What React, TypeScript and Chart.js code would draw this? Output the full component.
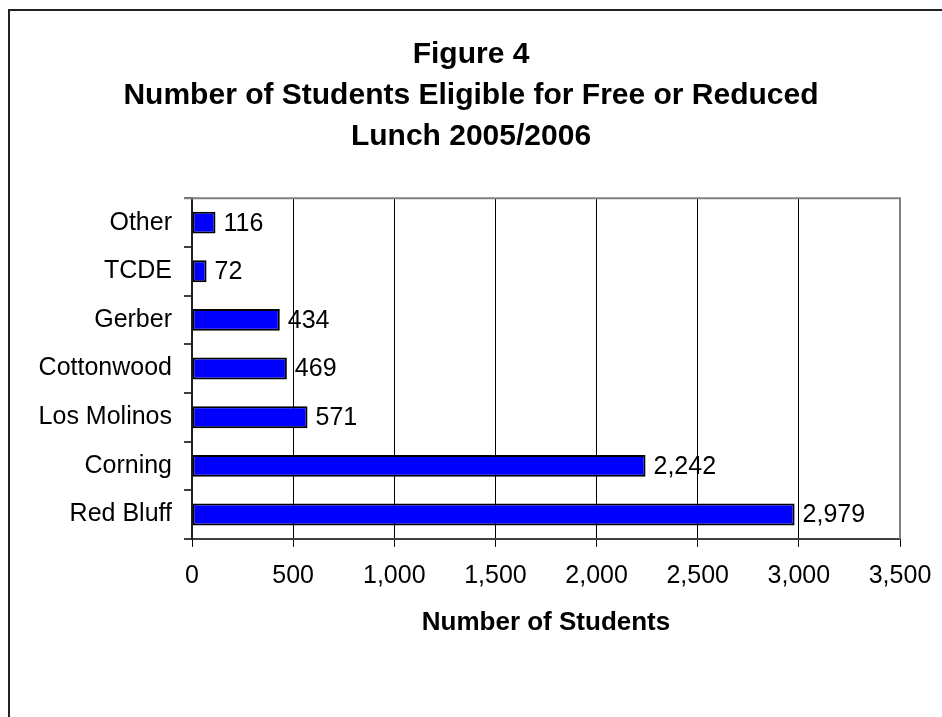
import React, { useEffect, useRef } from "react";
import { Chart, registerables } from "chart.js";

Chart.register(...registerables);

const categories = ["Other", "TCDE", "Gerber", "Cottonwood", "Los Molinos", "Corning", "Red Bluff"];
const students = [116, 72, 434, 469, 571, 2242, 2979];
const titleLines = ["Figure 4", "Number of Students Eligible for Free or Reduced", "Lunch 2005/2006"];
const xAxisTitle = "Number of Students";
const xMin = 0;
const xMax = 3500;
const xStep = 500;

const FONT = "'Liberation Sans', Arial, sans-serif";

const fmt = (v: number) => Number(v).toLocaleString("en-US");

const valueLabels = {
  id: "valueLabels",
  afterDatasetsDraw(chart: any) {
    const ctx = chart.ctx;
    const meta = chart.getDatasetMeta(0);
    ctx.save();
    ctx.font = `25px ${FONT}`;
    ctx.fillStyle = "#000";
    ctx.textAlign = "left";
    ctx.textBaseline = "middle";
    meta.data.forEach((el: any, i: number) => {
      ctx.fillText(fmt(students[i]), el.x + 8, el.y + 1);
    });
    ctx.restore();
  },
};

const plotFrame = {
  id: "plotFrame",
  afterDraw(chart: any) {
    const { ctx, chartArea } = chart;
    ctx.save();
    ctx.strokeStyle = "#808080";
    ctx.lineWidth = 2;
    ctx.beginPath();
    ctx.moveTo(chartArea.left - 8, chartArea.top);
    ctx.lineTo(chartArea.right, chartArea.top);
    ctx.lineTo(chartArea.right, chartArea.bottom);
    ctx.stroke();
    ctx.restore();
  },
};

export default function App() {
  const ref = useRef<HTMLCanvasElement | null>(null);

  useEffect(() => {
    if (!ref.current) return;
    const chart = new Chart(ref.current, {
      type: "bar",
      data: {
        labels: categories,
        datasets: [
          {
            data: students,
            backgroundColor: "#0000FF",
            borderColor: "#000000",
            borderWidth: 2,
            borderSkipped: false,
            categoryPercentage: 1,
            barPercentage: 0.45,
          },
        ],
      },
      options: {
        indexAxis: "y",
        responsive: false,
        animation: false,
        devicePixelRatio: 1,
        layout: { padding: { left: 0, right: 0, top: 0, bottom: 75 } },
        plugins: {
          legend: { display: false },
          tooltip: { enabled: false },
          title: {
            display: true,
            text: titleLines,
            color: "#000",
            font: { family: FONT, size: 30, weight: "bold", lineHeight: 1.37 },
            padding: { top: 34, bottom: 41 },
          },
        },
        scales: {
          x: {
            type: "linear",
            min: xMin,
            max: xMax,
            afterFit: (scale: any) => {
              scale.paddingLeft = 0;
              scale.paddingRight = 0;
            },
            ticks: {
              stepSize: xStep,
              color: "#000",
              font: { family: FONT, size: 25 },
              padding: 14,
              callback: (v: any) => fmt(v),
            },
            grid: {
              color: (c: any) => (c.tick && c.tick.value === xMax ? "#808080" : "#000000"),
              tickColor: "#000000",
              tickLength: 8,
              lineWidth: 1,
            },
            border: { display: true, color: "#404040", width: 2 },
            title: {
              display: true,
              text: xAxisTitle,
              color: "#000",
              font: { family: FONT, size: 26, weight: "bold" },
              padding: { top: 2, bottom: 4 },
            },
          },
          y: {
            type: "category",
            afterFit: (scale: any) => {
              scale.width = 192;
            },
            ticks: {
              color: "#000",
              font: { family: FONT, size: 25 },
              padding: 12,
            },
            grid: {
              offset: true,
              drawOnChartArea: false,
              drawTicks: true,
              tickLength: 8,
              color: "#404040",
              lineWidth: 2,
            },
            border: { display: true, color: "#202020", width: 2 },
          },
          yRight: {
            type: "linear",
            position: "right",
            display: true,
            afterFit: (scale: any) => {
              scale.width = 42;
            },
            ticks: { display: false },
            grid: { display: false, drawOnChartArea: false, drawTicks: false },
            border: { display: false },
          },
        },
      },
      plugins: [valueLabels, plotFrame],
    });
    return () => chart.destroy();
  }, []);

  return (
    <div style={{ position: "fixed", left: 0, top: 0, width: 942, height: 717, background: "#fff", overflow: "hidden" }}>
      <div
        style={{
          position: "absolute",
          left: 8,
          top: 9,
          width: 2000,
          height: 2000,
          borderLeft: "2px solid #222",
          borderTop: "2px solid #222",
        }}
      />
      <canvas ref={ref} width={942} height={717} style={{ position: "absolute", left: 0, top: 0 }} />
    </div>
  );
}
